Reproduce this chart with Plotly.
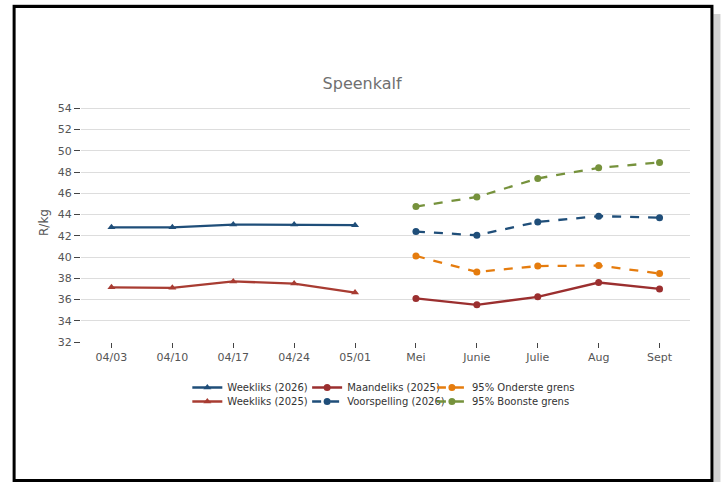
import plotly.graph_objects as go

categories = ["04/03", "04/10", "04/17", "04/24", "05/01", "Mei", "Junie", "Julie", "Aug", "Sept"]
weekly_cats = categories[:5]
month_cats = categories[5:]

weekliks_2026 = [42.8, 42.8, 43.05, 43.05, 43.0]
weekliks_2025 = [37.15, 37.1, 37.7, 37.5, 36.65]
maandeliks_2025 = [36.1, 35.5, 36.25, 37.6, 37.0]
voorspelling_2026 = [42.4, 42.05, 43.3, 43.85, 43.7]
onderste = [40.1, 38.6, 39.15, 39.2, 38.45]
boonste = [44.75, 45.65, 47.4, 48.4, 48.9]

y_ticks = list(range(32, 55, 2))

W, H = 723, 482
L, R, T, B = 80.5, 690.5, 103, 342

BLUE = "#1f4e79"
RED_W = "#a83c32"
RED_M = "#9b2f2f"
ORANGE = "#e57c0e"
GREEN = "#76923c"

fig = go.Figure()

def px(x):
    return (x - L) / (R - L)

def py(y):
    return (B - y) / (B - T)

# legend item positions (left of box, top of box) in pixels
legend_pos = {
    "legend": (187, 373),
    "legend2": (187, 387),
    "legend3": (307, 373),
    "legend4": (307, 387),
    "legend5": (432, 373),
    "legend6": (432, 387),
}

def add(name, x, y, color, symbol, dash, legend):
    fig.add_trace(go.Scatter(
        x=x, y=y, name=name, mode="lines+markers",
        line=dict(color=color, width=2.3, dash=dash),
        marker=dict(symbol=symbol, size=7, color=color),
        legend=legend, showlegend=True,
    ))

add("Weekliks (2026)", weekly_cats, weekliks_2026, BLUE, "triangle-up", "solid", "legend")
add("Weekliks (2025)", weekly_cats, weekliks_2025, RED_W, "triangle-up", "solid", "legend2")
add("Maandeliks (2025)", month_cats, maandeliks_2025, RED_M, "circle", "solid", "legend3")
add("Voorspelling (2026)", month_cats, voorspelling_2026, BLUE, "circle", "dash", "legend4")
add("95% Onderste grens", month_cats, onderste, ORANGE, "circle", "dash", "legend5")
add("95% Boonste grens", month_cats, boonste, GREEN, "circle", "dash", "legend6")

leg_common = dict(font=dict(family="DejaVu Sans", size=10, color="#333"),
                  bgcolor="rgba(0,0,0,0)", yanchor="top", xanchor="left",
                  tracegroupgap=0, itemwidth=30, borderwidth=0)

legends = {k: dict(x=px(v[0]), y=py(v[1]), **leg_common) for k, v in legend_pos.items()}

fig.update_layout(
    width=W, height=H,
    showlegend=True,
    margin=dict(l=L, r=W - R, t=T, b=H - B, pad=0),
    paper_bgcolor="white", plot_bgcolor="white",
    font=dict(family="DejaVu Sans", color="#555"),
    title=dict(text="Speenkalf", x=px(386), xanchor="center", y=1 - 83 / H, yanchor="middle",
               font=dict(size=16, color="#707070", family="DejaVu Sans")),
    xaxis=dict(type="category", categoryorder="array", categoryarray=categories,
               range=[-0.5, 9.5], showgrid=False, zeroline=False, showline=False,
               ticks="outside", ticklen=5, tickcolor="#444", tickwidth=1,
               tickfont=dict(size=11, color="#555"), fixedrange=True),
    yaxis=dict(range=[32, 54.5], tickvals=y_ticks, showgrid=True, gridcolor="#dddddd",
               gridwidth=1, zeroline=False, showline=False,
               ticks="outside", ticklen=6, tickcolor="#444", tickwidth=1,
               tickfont=dict(size=11, color="#555"),
               title=dict(text="R/kg", font=dict(size=12, color="#555"), standoff=6)),
    shapes=[
        dict(type="rect", xref="paper", yref="paper", x0=px(714), x1=px(721), y0=py(482), y1=py(14),
             fillcolor="#d3d3d3", line=dict(width=0), layer="below"),
        dict(type="line", xref="paper", yref="paper", x0=px(12), x1=px(714), y0=py(4.5), y1=py(4.5),
             line=dict(color="#cccccc", width=1)),
        dict(type="rect", xref="paper", yref="paper", x0=px(13.5), x1=px(712.5), y0=py(480.5), y1=py(6.5),
             fillcolor="rgba(0,0,0,0)", line=dict(color="black", width=3)),
    ],
    **legends,
)

fig.write_html("out.html", config={"displayModeBar": False},
               post_script="document.body.style.margin='0';document.body.style.overflow='hidden';")
